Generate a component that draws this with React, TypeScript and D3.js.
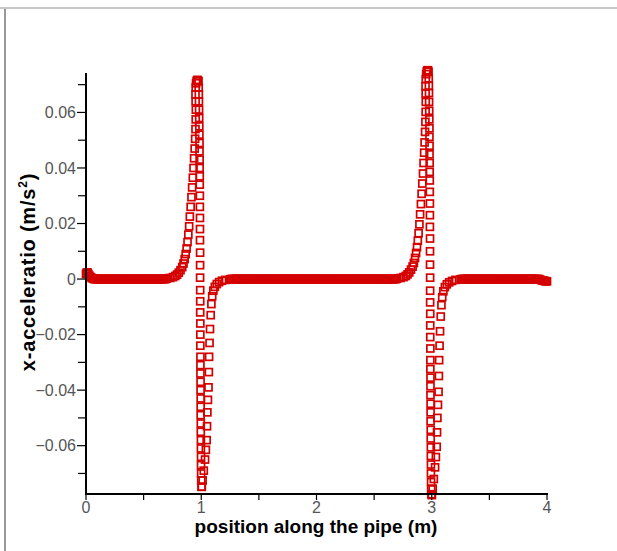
import React, { useEffect, useRef } from "react";
import * as d3 from "d3";

const width = 617;
const height = 551;

// x-range and y-range of the plot
const xDomain = [0, 4];
const yDomain = [-0.0774, 0.0742];
const xMajorTicks = [0, 1, 2, 3, 4];
const xMinorTicks = [0.5, 1.5, 2.5, 3.5];
const yMajorTicks = [-0.06, -0.04, -0.02, 0, 0.02, 0.04, 0.06];
const yMinorTicks = [-0.07, -0.05, -0.03, -0.01, 0.01, 0.03, 0.05, 0.07];

// mesh nodes on the flat parts (acceleration ~ 0)
const meshStep = 0.01;
const flatSpans = [
  [0.07, 0.69],
  [1.26, 2.69],
  [3.26, 3.93],
];

// small bumps at the pipe ends
const startBump = [
  [0, 0.0018], [0.005, 0.0022], [0.01, 0.0024], [0.015, 0.0022], [0.02, 0.0018],
  [0.03, 0.0012], [0.04, 0.0007], [0.05, 0.0004], [0.06, 0.0002],
];
const endBump = [
  [3.94, -0.0002], [3.95, -0.0004], [3.96, -0.0005], [3.97, -0.0006],
  [3.98, -0.0007], [3.99, -0.0008], [4.0, -0.0008],
];

// first wave front near x = 1
const rise1 = [
  [0.7, 0.0002], [0.73, 0.0004], [0.755, 0.0007], [0.775, 0.0011], [0.79, 0.0016],
  [0.805, 0.0023], [0.82, 0.0032], [0.835, 0.0043], [0.846, 0.0056], [0.856, 0.0072],
  [0.865, 0.009], [0.873, 0.011], [0.881, 0.0133], [0.888, 0.016], [0.895, 0.019],
  [0.901, 0.0225], [0.908, 0.026], [0.915, 0.0295], [0.921, 0.033], [0.927, 0.0365],
  [0.933, 0.04], [0.938, 0.0435], [0.943, 0.047], [0.947, 0.0505], [0.95, 0.054],
  [0.952, 0.0575], [0.953, 0.061], [0.951, 0.064], [0.95, 0.0665], [0.952, 0.069],
  [0.955, 0.0705], [0.96, 0.0713], [0.966, 0.0717], [0.971, 0.0716],
];
const drop1 = [
  [0.976, 0.0712], [0.978, 0.069], [0.979, 0.0665], [0.98, 0.064], [0.981, 0.061],
  [0.982, 0.058], [0.983, 0.055], [0.984, 0.052], [0.985, 0.049], [0.985, 0.046],
  [0.986, 0.043], [0.986, 0.04], [0.987, 0.037], [0.987, 0.034], [0.988, 0.03],
  [0.988, 0.026], [0.989, 0.022], [0.989, 0.018], [0.989, 0.014], [0.99, 0.0095],
  [0.99, 0.005], [0.99, 0.0005], [0.991, -0.004], [0.991, -0.008], [0.991, -0.012],
  [0.992, -0.016], [0.992, -0.02], [0.992, -0.024], [0.993, -0.028], [0.993, -0.031],
  [0.993, -0.034], [0.994, -0.037], [0.994, -0.04], [0.995, -0.043], [0.995, -0.046],
  [0.995, -0.049], [0.996, -0.052], [0.996, -0.055], [0.997, -0.058], [0.997, -0.061],
  [0.998, -0.064], [0.998, -0.067], [0.999, -0.07], [1.0, -0.0725], [1.002, -0.0748],
];
const recover1 = [
  [1.005, -0.0748], [1.012, -0.0725], [1.022, -0.069], [1.033, -0.065], [1.04, -0.0615],
  [1.047, -0.058], [1.05, -0.053], [1.053, -0.048], [1.058, -0.0435], [1.063, -0.039],
  [1.066, -0.0335], [1.068, -0.028], [1.072, -0.023], [1.076, -0.018], [1.082, -0.013],
  [1.088, -0.009], [1.095, -0.0062], [1.105, -0.0042], [1.118, -0.0028], [1.135, -0.0018],
  [1.155, -0.0011], [1.18, -0.0006], [1.21, -0.0003], [1.25, -0.0001],
];

// second wave front near x = 3
const rise2 = [
  [2.7, 0.0002], [2.73, 0.0004], [2.755, 0.0007], [2.775, 0.0011], [2.79, 0.0017],
  [2.805, 0.0024], [2.82, 0.0034], [2.834, 0.0045], [2.845, 0.0058], [2.855, 0.0076],
  [2.864, 0.0094], [2.872, 0.0115], [2.879, 0.0138], [2.886, 0.0165], [2.893, 0.0197],
  [2.899, 0.0233], [2.906, 0.027], [2.912, 0.0307], [2.918, 0.0344], [2.924, 0.038],
  [2.929, 0.0418], [2.934, 0.0455], [2.938, 0.0492], [2.942, 0.053], [2.945, 0.0566],
  [2.947, 0.0602], [2.948, 0.0638], [2.947, 0.0668], [2.946, 0.0695], [2.948, 0.072],
  [2.952, 0.0738], [2.957, 0.0748], [2.963, 0.0752], [2.968, 0.0751],
];
const drop2 = [
  [2.972, 0.0746], [2.974, 0.0722], [2.975, 0.0696], [2.976, 0.067], [2.977, 0.0638],
  [2.978, 0.0606], [2.979, 0.0575], [2.98, 0.0543], [2.98, 0.0512], [2.981, 0.048],
  [2.981, 0.0449], [2.982, 0.0418], [2.982, 0.0386], [2.983, 0.0355], [2.983, 0.0314],
  [2.984, 0.0272], [2.984, 0.023], [2.984, 0.0188], [2.985, 0.0146], [2.985, 0.01],
  [2.985, 0.0052], [2.986, 0.0005], [2.986, -0.0042], [2.986, -0.0084], [2.987, -0.0125],
  [2.987, -0.0167], [2.987, -0.0209], [2.988, -0.025], [2.988, -0.0292], [2.988, -0.0324],
  [2.989, -0.0355], [2.989, -0.0386], [2.989, -0.0418], [2.99, -0.0449], [2.99, -0.048],
  [2.99, -0.0512], [2.991, -0.0543], [2.991, -0.0574], [2.992, -0.0606], [2.992, -0.0637],
  [2.993, -0.0668], [2.993, -0.07], [2.994, -0.0731], [2.995, -0.0757], [2.997, -0.0775],
];
const recover2 = [
  [3.001, -0.0778], [3.008, -0.0755], [3.018, -0.072], [3.029, -0.0678], [3.036, -0.0641],
  [3.043, -0.0604], [3.046, -0.0552], [3.049, -0.05], [3.054, -0.0453], [3.059, -0.0406],
  [3.062, -0.0349], [3.064, -0.0292], [3.068, -0.024], [3.072, -0.0188], [3.078, -0.0135],
  [3.084, -0.0094], [3.091, -0.0065], [3.101, -0.0044], [3.114, -0.0029], [3.131, -0.0019],
  [3.151, -0.0012], [3.176, -0.0007], [3.206, -0.0003], [3.25, -0.0001],
];

const formatY = (d) => (d === 0 ? "0" : d3.format(".2f")(d));

export default function App() {
  const chartRef = useRef(null);

  useEffect(() => {
    drawChart();
  }, []);

  const drawChart = () => {
    const root = d3.select(chartRef.current);
    root.selectAll("*").remove();

    const svg = root
      .append("svg")
      .attr("width", width)
      .attr("height", height)
      .style("position", "absolute")
      .style("left", "0px")
      .style("top", "0px")
      .style("background", "#fff");

    const x = d3.scaleLinear().domain(xDomain).range([86, 547]);
    const y = d3.scaleLinear().domain(yDomain).range([494, 73]);

    // page frame
    svg.append("line").attr("x1", 0).attr("x2", width).attr("y1", 8).attr("y2", 8)
      .attr("stroke", "#c8c8c8").attr("stroke-width", 2);
    svg.append("line").attr("x1", 5).attr("x2", 5).attr("y1", 9).attr("y2", height)
      .attr("stroke", "#333").attr("stroke-width", 1);

    // data
    const flat = [];
    flatSpans.forEach(([a, b]) => {
      d3.range(a, b + meshStep / 2, meshStep).forEach((v) => flat.push([v, 0]));
    });
    const points = [
      ...startBump, ...flat, ...rise1, ...drop1, ...recover1,
      ...rise2, ...drop2, ...recover2, ...endBump,
    ];
    const s = 7;
    svg.append("g")
      .selectAll("rect")
      .data(points)
      .enter()
      .append("rect")
      .attr("x", (d) => x(d[0]) - s / 2)
      .attr("y", (d) => y(d[1]) - s / 2)
      .attr("width", s)
      .attr("height", s)
      .attr("fill", "none")
      .attr("stroke", "#d40000")
      .attr("stroke-width", 1.7);

    // axes
    const font = "'Liberation Sans', Arial, sans-serif";
    const yAxis = svg.append("g");
    yAxis.append("line").attr("x1", x(0)).attr("x2", x(0)).attr("y1", 73).attr("y2", 495)
      .attr("stroke", "#000").attr("stroke-width", 2);
    yAxis.selectAll(".ymaj").data(yMajorTicks).enter().append("line")
      .attr("x1", x(0) - 9).attr("x2", x(0)).attr("y1", (d) => y(d)).attr("y2", (d) => y(d))
      .attr("stroke", "#000").attr("stroke-width", 1.2);
    yAxis.selectAll(".ymin").data(yMinorTicks).enter().append("line")
      .attr("x1", x(0) - 8).attr("x2", x(0)).attr("y1", (d) => y(d)).attr("y2", (d) => y(d))
      .attr("stroke", "#000").attr("stroke-width", 1.2);
    yAxis.selectAll("text").data(yMajorTicks).enter().append("text")
      .attr("x", x(0) - 10).attr("y", (d) => y(d)).attr("dy", "0.36em")
      .attr("text-anchor", "end").attr("font-family", font).attr("font-size", 16)
      .attr("fill", "#555").text(formatY);

    const xAxis = svg.append("g");
    xAxis.append("line").attr("x1", x(0) - 1).attr("x2", x(4) + 1).attr("y1", 494).attr("y2", 494)
      .attr("stroke", "#000").attr("stroke-width", 2);
    xAxis.selectAll(".xmaj").data(xMajorTicks).enter().append("line")
      .attr("x1", (d) => x(d)).attr("x2", (d) => x(d)).attr("y1", 494).attr("y2", 500)
      .attr("stroke", "#000").attr("stroke-width", 1.2);
    xAxis.selectAll(".xmin").data(xMinorTicks).enter().append("line")
      .attr("x1", (d) => x(d)).attr("x2", (d) => x(d)).attr("y1", 494).attr("y2", 500)
      .attr("stroke", "#000").attr("stroke-width", 1.2);
    xAxis.selectAll("text").data(xMajorTicks).enter().append("text")
      .attr("x", (d) => x(d)).attr("y", 513)
      .attr("text-anchor", "middle").attr("font-family", font).attr("font-size", 16)
      .attr("fill", "#555").text((d) => d);

    // axis titles
    svg.append("text")
      .attr("x", 316).attr("y", 533)
      .attr("text-anchor", "middle").attr("font-family", font).attr("font-size", 19)
      .attr("font-weight", "bold").attr("fill", "#000")
      .text("position along the pipe (m)");

    const yt = svg.append("text")
      .attr("transform", "translate(35,272) rotate(-90)")
      .attr("text-anchor", "middle").attr("font-family", font).attr("font-size", 20)
      .attr("letter-spacing", 0.8)
      .attr("font-weight", "bold").attr("fill", "#000");
    yt.append("tspan").text("x-acceleratio (m/s");
    yt.append("tspan").attr("font-size", 12).attr("dy", -8).text("2");
    yt.append("tspan").attr("dy", 8).text(")");
  };

  return <div ref={chartRef}></div>;
}
